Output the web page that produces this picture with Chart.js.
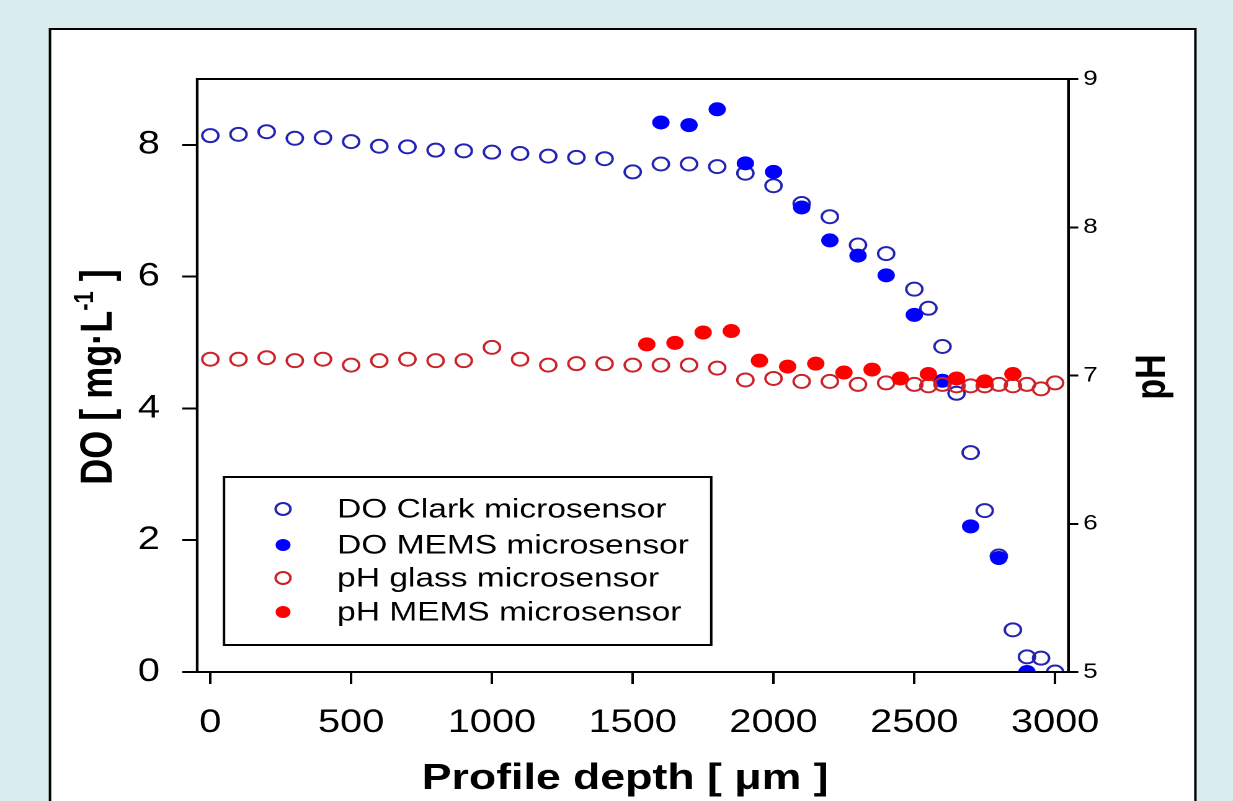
<!DOCTYPE html>
<html lang="en">
<head>
<meta charset="UTF-8">
<title>DO and pH profiles</title>
<style>
  html, body { margin: 0; padding: 0; background: #d9ecee; overflow: hidden; }
  /* the source picture is stretched sideways, so the whole chart is too */
  .stretch { width: 994px; height: 801px; transform: scaleX(1.2404); transform-origin: 0 0; }
</style>
</head>
<body>

<div class="stretch">
  <canvas id="profileChart" width="994" height="801"></canvas>
</div>

<script src="https://cdn.jsdelivr.net/npm/chart.js"></script>
<script>
  // --- data ---
  const clarkDepth = [0, 100, 200, 300, 400, 500, 600, 700, 800, 900, 1000, 1100, 1200, 1300, 1400,
    1500, 1600, 1700, 1800, 1900, 2000, 2100, 2200, 2300, 2400, 2500,
    2550, 2600, 2650, 2700, 2750, 2800, 2850, 2900, 2950, 3000];
  const clarkDO = [8.14, 8.16, 8.20, 8.10, 8.11, 8.05, 7.98, 7.97, 7.92, 7.91, 7.89, 7.87, 7.83, 7.81, 7.79,
    7.59, 7.71, 7.71, 7.67, 7.57, 7.38, 7.11, 6.91, 6.48, 6.35, 5.81,
    5.52, 4.94, 4.23, 3.33, 2.45, 1.76, 0.64, 0.23, 0.21, 0.00];

  const memsDoDepth = [1600, 1700, 1800, 1900, 2000, 2100, 2200, 2300, 2400, 2500, 2600, 2700, 2800, 2900];
  const memsDO = [8.34, 8.30, 8.54, 7.72, 7.59, 7.05, 6.55, 6.32, 6.02, 5.42, 4.42, 2.21, 1.73, 0.00];

  const glassDepth = [0, 100, 200, 300, 400, 500, 600, 700, 800, 900, 1000, 1100, 1200, 1300, 1400,
    1500, 1600, 1700, 1800, 1900, 2000, 2100, 2200, 2300, 2400, 2500,
    2550, 2600, 2650, 2700, 2750, 2800, 2850, 2900, 2950, 3000];
  const glassPH = [7.11, 7.11, 7.12, 7.10, 7.11, 7.07, 7.10, 7.11, 7.10, 7.10, 7.19, 7.11, 7.07, 7.08, 7.08,
    7.07, 7.07, 7.07, 7.05, 6.97, 6.98, 6.96, 6.96, 6.94, 6.95, 6.94,
    6.93, 6.94, 6.93, 6.93, 6.93, 6.94, 6.93, 6.94, 6.91, 6.95];

  const memsPhDepth = [1550, 1650, 1750, 1850, 1950, 2050, 2150, 2250, 2350, 2450, 2550, 2650, 2750, 2850];
  const memsPH = [7.21, 7.22, 7.29, 7.30, 7.10, 7.06, 7.08, 7.02, 7.04, 6.98, 7.01, 6.98, 6.96, 7.01];

  const seriesNames = ['DO Clark microsensor', 'DO MEMS microsensor', 'pH glass microsensor', 'pH MEMS microsensor'];
  const doTicks = [0, 2, 4, 6, 8];
  const phTicks = [5, 6, 7, 8, 9];
  const depthTicks = [0, 500, 1000, 1500, 2000, 2500, 3000];

  const toPoints = (xs, ys) => xs.map((x, i) => ({ x: x, y: ys[i] }));

  // --- layout (in unstretched canvas px) ---
  const W = 994, H = 801;
  const AREA = { left: 158.9, right: 861.3, top: 79, bottom: 672 };
  const FONT = '"Liberation Sans", Arial, sans-serif';

  const openDot = (color, yAxis, label, xs, ys, order) => ({
    label: label, data: toPoints(xs, ys), yAxisID: yAxis, order: order,
    pointStyle: 'circle', pointRadius: 6.5, pointHoverRadius: 6.5,
    pointBackgroundColor: 'rgba(0,0,0,0)', pointBorderColor: color, pointBorderWidth: 2,
    showLine: false
  });
  const filledDot = (color, yAxis, label, xs, ys, order) => ({
    label: label, data: toPoints(xs, ys), yAxisID: yAxis, order: order,
    pointStyle: 'circle', pointRadius: 7, pointHoverRadius: 7,
    pointBackgroundColor: color, pointBorderColor: color, pointBorderWidth: 0,
    showLine: false
  });

  // background, white panel, plot frame, legend and axis titles
  const decorPlugin = {
    id: 'decor',
    beforeDraw(chart) {
      const c = chart.ctx;
      c.save();
      c.fillStyle = '#d9ecee';
      c.fillRect(0, 0, W, H);
      c.fillStyle = '#ffffff';
      c.fillRect(40.3, 29, 923.4, 800);
      c.strokeStyle = '#000';
      c.lineWidth = 2;
      c.strokeRect(40.3, 29, 923.4, 800);
      c.restore();
    },
    afterDraw(chart) {
      const c = chart.ctx;
      const a = chart.chartArea;
      c.save();
      c.strokeStyle = '#000';
      c.lineWidth = 2;
      c.strokeRect(a.left, a.top, a.right - a.left, a.bottom - a.top);

      // legend box
      c.fillStyle = '#fff';
      c.fillRect(180.6, 477, 392.8, 168);
      c.lineWidth = 2;
      c.strokeRect(180.6, 477, 392.8, 168);
      const rows = [509, 545, 578, 612];
      chart.data.datasets.forEach((ds, i) => {
        c.beginPath();
        c.arc(228.2, rows[i], 6, 0, Math.PI * 2);
        if (ds.pointBorderWidth > 0) {
          c.lineWidth = 2;
          c.strokeStyle = ds.pointBorderColor;
          c.stroke();
        } else {
          c.fillStyle = ds.pointBackgroundColor;
          c.fill();
        }
        c.fillStyle = '#000';
        c.font = '27px ' + FONT;
        c.textAlign = 'left';
        c.textBaseline = 'middle';
        c.fillText(ds.label, 271.8, rows[i] + 1);
      });

      // x title
      c.fillStyle = '#000';
      c.textBaseline = 'alphabetic';
      c.textAlign = 'center';
      c.font = 'bold 36px ' + FONT;
      c.fillText('Profile depth [ \u03BCm ]', 504, 789);

      // left title with superscript
      c.save();
      c.translate(90, 377);
      c.rotate(-Math.PI / 2);
      const big = 'bold 36px ' + FONT, small = 'bold 22px ' + FONT;
      const p1 = 'DO [ mg\u00B7L', p2 = '-1', p3 = ' ]';
      c.font = big; const w1 = c.measureText(p1).width, w3 = c.measureText(p3).width;
      c.font = small; const w2 = c.measureText(p2).width;
      let x = -(w1 + w2 + w3) / 2;
      c.textAlign = 'left';
      c.font = big; c.fillText(p1, x, 0); x += w1;
      c.font = small; c.fillText(p2, x, -15); x += w2;
      c.font = big; c.fillText(p3, x, 0);
      c.restore();

      // right title, same direction as the left one
      c.save();
      c.translate(939, 377);
      c.rotate(-Math.PI / 2);
      c.textAlign = 'center';
      c.font = 'bold 34px ' + FONT;
      c.fillText('pH', 0, 0);
      c.restore();

      c.restore();
    }
  };

  const ctx = document.getElementById('profileChart');
  const profileChart = new Chart(ctx, {
    type: 'scatter',
    data: {
      datasets: [
        openDot('#2323b4', 'y', seriesNames[0], clarkDepth, clarkDO, 3),
        filledDot('#0000ff', 'y', seriesNames[1], memsDoDepth, memsDO, 2),
        openDot('#cc2229', 'y2', seriesNames[2], glassDepth, glassPH, 1),
        filledDot('#ff0000', 'y2', seriesNames[3], memsPhDepth, memsPH, 0)
      ]
    },
    options: {
      responsive: false,
      animation: false,
      devicePixelRatio: 2,
      layout: { padding: { top: AREA.top, left: 0, right: 0, bottom: 0 } },
      plugins: {
        legend: { display: false },
        tooltip: { enabled: false }
      },
      scales: {
        x: {
          type: 'linear', position: 'bottom', min: -47, max: 3047,
          afterBuildTicks: s => { s.ticks = depthTicks.map(v => ({ value: v })); },
          afterFit: s => { s.height = H - AREA.bottom; },
          grid: { drawOnChartArea: false, drawTicks: true, tickLength: 12, color: '#000', lineWidth: 2 },
          border: { display: true, color: '#000', width: 2 },
          ticks: { color: '#000', padding: 20, maxRotation: 0, font: { family: FONT, size: 32 },
            callback: v => String(v) }
        },
        y: {
          type: 'linear', position: 'left', min: 0, max: 9,
          afterBuildTicks: s => { s.ticks = doTicks.map(v => ({ value: v })); },
          afterFit: s => { s.width = AREA.left; },
          grid: { drawOnChartArea: false, drawTicks: true, tickLength: 12, color: '#000', lineWidth: 2 },
          border: { display: true, color: '#000', width: 2 },
          ticks: { color: '#000', padding: 18, font: { family: FONT, size: 32 } }
        },
        y2: {
          type: 'linear', position: 'right', min: 5, max: 9,
          afterBuildTicks: s => { s.ticks = phTicks.map(v => ({ value: v })); },
          afterFit: s => { s.width = W - AREA.right; },
          grid: { drawOnChartArea: false, drawTicks: true, tickLength: 8, color: '#000', lineWidth: 2 },
          border: { display: true, color: '#000', width: 2 },
          ticks: { color: '#000', padding: 4, font: { family: FONT, size: 21 } }
        }
      }
    },
    plugins: [decorPlugin]
  });
</script>
</body>
</html>
